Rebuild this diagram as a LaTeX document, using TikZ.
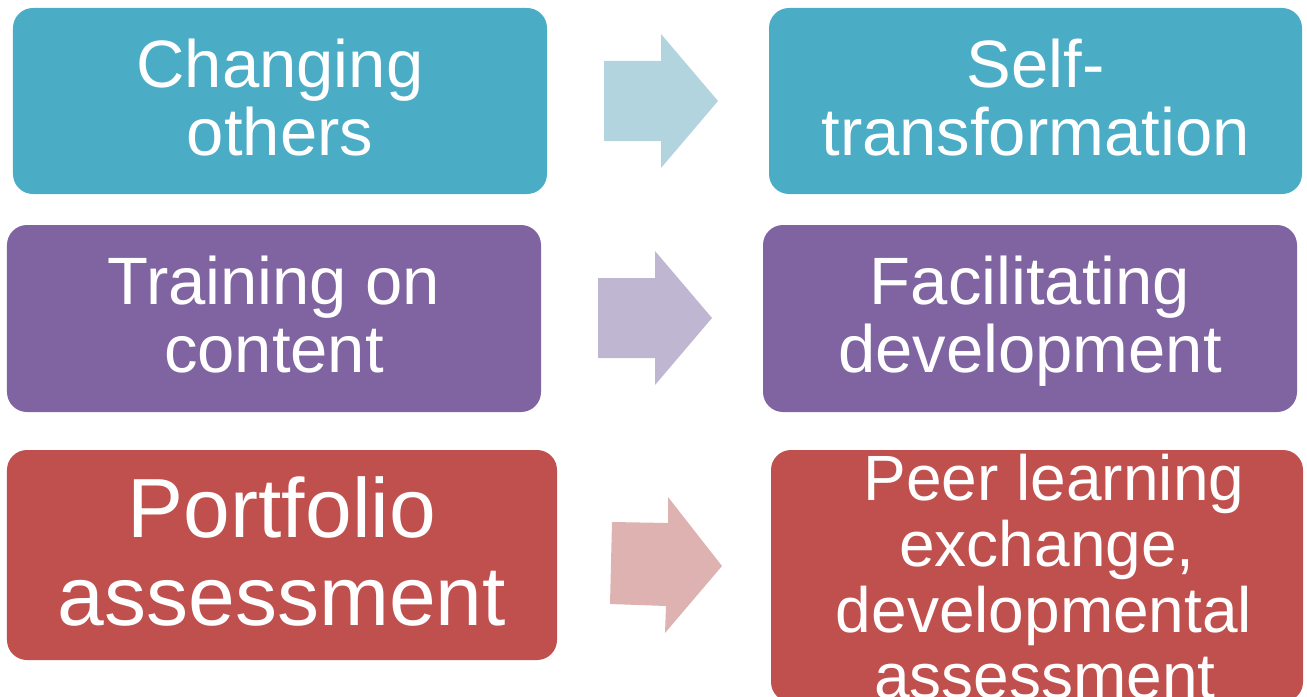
\documentclass[tikz,border=0pt]{standalone}
\usepackage{fontspec}
\setmainfont{Liberation Sans}

\definecolor{tealbox}{HTML}{4BACC6}
\definecolor{purplebox}{HTML}{8064A2}
\definecolor{redbox}{HTML}{C0504D}
\definecolor{tealarrow}{HTML}{B2D4DF}
\definecolor{purplearrow}{HTML}{BFB7D1}
\definecolor{redarrow}{HTML}{DDB2B1}

\begin{document}
\begin{tikzpicture}[x=1bp, y=-1bp,
    box/.style={rounded corners=20bp, inner sep=0pt, text=white, align=center,
        text depth=8bp, font=\fontsize{67bp}{68bp}\selectfont}]
        \useasboundingbox (0,0) rectangle (1307,696);
        \clip (0,0) rectangle (1307,696);

        % Boxes on the left
        \node[box, fill=tealbox, minimum width=534bp, minimum height=186bp] (others) at (280,101) {Changing\\others};
        \node[box, fill=purplebox, minimum width=534bp, minimum height=187bp] (content) at (274,318.5) {Training on\\content};
        \node[box, fill=redbox, minimum width=550bp, minimum height=210bp,
            font=\fontsize{84bp}{88bp}\selectfont] (portfolio) at (282,555) {Portfolio\\assessment};

        % Boxes on the right
        \node[box, fill=tealbox, minimum width=533bp, minimum height=186bp] (self) at (1035.5,101) {Self-\\transformation};
        \node[box, fill=purplebox, minimum width=534bp, minimum height=187bp] (facil) at (1030,318.5) {Facilitating\\development};
        \node[box, fill=redbox, minimum width=532bp, minimum height=252bp, text depth=0bp,
            font=\fontsize{64bp}{66bp}\selectfont] (peer) at (1037,576)
            {\hspace*{34bp}Peer learning\\\hspace*{20bp}exchange,\\\hspace*{14bp}developmental\\\hspace*{16bp}assessment};

        % Block arrows between the boxes
        \fill[tealarrow] (604,61) -- (661,61) -- (661,34) -- (718,101) -- (661,168) -- (661,141) -- (604,141) -- cycle;
        \fill[purplearrow] (598,278) -- (655,278) -- (655,251) -- (712,318) -- (655,385) -- (655,358) -- (598,358) -- cycle;
        \fill[redarrow] (612,522) -- (668,523) -- (668,497) -- (722,566) -- (665,633) -- (666,606) -- (610,604) -- cycle;
    \end{tikzpicture}
\end{document}
